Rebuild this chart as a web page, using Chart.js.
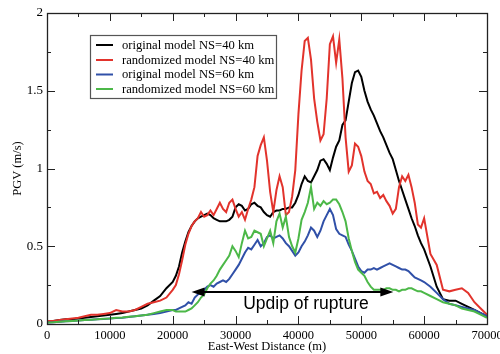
<!DOCTYPE html>
<html>
<head>
<meta charset="utf-8">
<script src="https://cdn.jsdelivr.net/npm/chart.js@4.4.0/dist/chart.umd.min.js"></script>
<style>
  html, body { margin: 0; padding: 0; background: #fff; }
  canvas { display: block; }
</style>
</head>
<body>
<canvas id="pgvChart" width="500" height="354"></canvas>
<script>
// sample positions along the fault (m)
const distance = [
  0, 1000, 2000, 3000, 4000, 5000, 6000, 7000, 8000, 9000,
  10000, 11000, 12000, 13000, 14000, 15000, 16000, 17000, 18000, 19000,
  20000, 20500, 21000, 21500, 22000, 22500, 23000, 23500, 24000, 24500,
  25000, 25500, 26000, 26500, 27000, 27500, 28000, 28500, 29000, 29500,
  30000, 30500, 31000, 31500, 32000, 32500, 33000, 33500, 34000, 34500,
  35000, 35500, 36000, 36500, 37000, 37500, 38000, 38500, 39000, 39500,
  40000, 40500, 41000, 41500, 42000, 42500, 43000, 43500, 44000, 44500,
  45000, 45500, 46000, 46500, 47000, 47500, 48000, 48500, 49000, 49500,
  50000, 50500, 51000, 51500, 52000, 52500, 53000, 53500, 54000, 54500,
  55000, 55500, 56000, 56500, 57000, 57500, 58000, 58500, 59000, 59500,
  60000, 61000, 62000, 63000, 64000, 65000, 66000, 67000, 68000, 69000, 70000
];

// PGV (m/s)
const original40 = [
  0.02, 0.02, 0.025, 0.03, 0.03, 0.035, 0.04, 0.045, 0.05, 0.055,
  0.06, 0.065, 0.07, 0.08, 0.09, 0.1, 0.12, 0.15, 0.18, 0.23,
  0.27, 0.31, 0.37, 0.46, 0.53, 0.59, 0.63, 0.66, 0.68, 0.69,
  0.70, 0.71, 0.70, 0.68, 0.67, 0.66, 0.66, 0.66, 0.67, 0.69,
  0.75, 0.77, 0.76, 0.73, 0.74, 0.77, 0.78, 0.76, 0.75, 0.72,
  0.70, 0.69, 0.72, 0.73, 0.73, 0.74, 0.74, 0.75, 0.75, 0.78,
  0.83, 0.90, 0.95, 0.92, 0.91, 0.95, 0.99, 1.05, 1.06, 1.03,
  0.99, 1.07, 1.14, 1.18, 1.28, 1.31, 1.43, 1.55, 1.62, 1.63,
  1.59, 1.50, 1.43, 1.38, 1.34, 1.29, 1.24, 1.20, 1.15, 1.10,
  1.06, 0.99, 0.92, 0.86, 0.80, 0.74, 0.68, 0.63, 0.57, 0.52,
  0.48, 0.37, 0.24, 0.16, 0.15, 0.15, 0.13, 0.11, 0.09, 0.07, 0.05
];
const random40 = [
  0.02, 0.02, 0.025, 0.03, 0.035, 0.04, 0.05, 0.06, 0.06, 0.065,
  0.07, 0.09, 0.08, 0.08, 0.09, 0.11, 0.13, 0.14, 0.15, 0.17,
  0.22, 0.25, 0.32, 0.41, 0.51, 0.58, 0.63, 0.66, 0.68, 0.72,
  0.69, 0.70, 0.73, 0.70, 0.74, 0.78, 0.74, 0.72, 0.78, 0.80,
  0.74, 0.69, 0.72, 0.67, 0.74, 0.80, 0.88, 1.08, 1.15, 1.20,
  1.05, 0.85, 0.72, 0.86, 0.95, 0.88, 0.70, 0.72, 0.82, 0.99,
  1.35, 1.63, 1.82, 1.84, 1.70, 1.45, 1.30, 1.18, 1.22, 1.45,
  1.80, 1.85, 1.68, 1.83, 1.58, 1.20, 0.98, 1.02, 1.16, 1.14,
  1.08, 0.98, 0.92, 0.90, 0.84, 0.85, 0.81, 0.83, 0.79, 0.76,
  0.71, 0.74, 0.88, 0.95, 0.92, 0.96, 0.88, 0.78, 0.64, 0.62,
  0.68, 0.45, 0.38, 0.22, 0.21, 0.22, 0.23, 0.20, 0.14, 0.10, 0.06
];
const original60 = [
  0.01, 0.012, 0.015, 0.018, 0.02, 0.022, 0.025, 0.028, 0.03, 0.032,
  0.035, 0.038, 0.04, 0.045, 0.05, 0.055, 0.06, 0.065, 0.07, 0.08,
  0.09, 0.09, 0.10, 0.11, 0.12, 0.14, 0.13, 0.17, 0.19, 0.20,
  0.22, 0.24, 0.25, 0.24, 0.26, 0.27, 0.28, 0.27, 0.29, 0.32,
  0.35, 0.38, 0.42, 0.46, 0.49, 0.48, 0.51, 0.54, 0.50, 0.52,
  0.56, 0.57, 0.55, 0.56, 0.57, 0.55, 0.52, 0.50, 0.47, 0.44,
  0.46, 0.50, 0.53, 0.57, 0.62, 0.60, 0.56, 0.60, 0.66, 0.70,
  0.74, 0.70, 0.61, 0.58, 0.57, 0.56, 0.51, 0.47, 0.42, 0.37,
  0.34, 0.33, 0.35, 0.35, 0.36, 0.35, 0.36, 0.37, 0.38, 0.39,
  0.38, 0.37, 0.36, 0.35, 0.35, 0.34, 0.32, 0.30, 0.29, 0.28,
  0.27, 0.24, 0.20, 0.16, 0.13, 0.12, 0.11, 0.10, 0.09, 0.07, 0.05
];
const random60 = [
  0.01, 0.012, 0.015, 0.018, 0.02, 0.022, 0.025, 0.028, 0.03, 0.033,
  0.036, 0.04, 0.042, 0.046, 0.05, 0.055, 0.06, 0.07, 0.08, 0.09,
  0.09, 0.08, 0.08, 0.08, 0.08, 0.09, 0.10, 0.12, 0.14, 0.17,
  0.19, 0.23, 0.26, 0.28, 0.31, 0.35, 0.38, 0.41, 0.44, 0.50,
  0.47, 0.43, 0.52, 0.60, 0.55, 0.56, 0.60, 0.59, 0.58, 0.50,
  0.55, 0.60, 0.52, 0.66, 0.71, 0.62, 0.69, 0.56, 0.50, 0.46,
  0.55, 0.67, 0.72, 0.78, 0.88, 0.74, 0.78, 0.76, 0.79, 0.77,
  0.78, 0.80, 0.80, 0.77, 0.72, 0.66, 0.55, 0.47, 0.40, 0.35,
  0.33, 0.31, 0.27, 0.24, 0.22, 0.22, 0.22, 0.22, 0.23, 0.23,
  0.22, 0.22, 0.21, 0.22, 0.22, 0.23, 0.23, 0.22, 0.21, 0.21,
  0.20, 0.18, 0.16, 0.14, 0.13, 0.12, 0.10, 0.09, 0.08, 0.06, 0.04
];

const seriesNames = [
  'original model NS=40 km',
  'randomized model NS=40 km',
  'original model NS=60 km',
  'randomized model NS=60 km'
];
const seriesColors = ['#000000', '#e2332c', '#3050a8', '#4cb848'];

// axes
const xTickValues = [0, 10000, 20000, 30000, 40000, 50000, 60000, 70000];
const xMinorStep = 5000;
const yTickValues = [0, 0.5, 1, 1.5, 2];
const yMinorStep = 0.25;

// annotation: updip arrow
const arrowFrom = 23000;
const arrowTo = 55100;
const arrowY = 0.205;
const arrowText = 'Updip of rupture';
const arrowTextX = 41200;
const arrowTextY = 0.098;

function toPoints(values) {
    return values.map((v, i) => ({ x: distance[i], y: v }));
}

const serif = "'Liberation Serif', 'Times New Roman', serif";

// frame, inward ticks, arrow and legend
const decorations = {
    id: 'decorations',
    afterDatasetsDraw(chart) {
        const ctx = chart.ctx;
        const a = chart.chartArea;
        const x = chart.scales.x;
        const y = chart.scales.y;
        ctx.save();

        // ticks on all four sides (long on labelled values)
        ctx.strokeStyle = '#222';
        ctx.lineWidth = 1;
        ctx.beginPath();
        for (let v = x.min + xMinorStep; v < x.max; v += xMinorStep) {
            const len = xTickValues.includes(v) ? 8 : 4;
            const px = Math.round(x.getPixelForValue(v)) + 0.5;
            ctx.moveTo(px, a.bottom); ctx.lineTo(px, a.bottom - len);
            ctx.moveTo(px, a.top); ctx.lineTo(px, a.top + len);
        }
        for (let v = y.min + yMinorStep; v < y.max; v += yMinorStep) {
            const len = yTickValues.includes(v) ? 8 : 4;
            const py = Math.round(y.getPixelForValue(v)) + 0.5;
            ctx.moveTo(a.left, py); ctx.lineTo(a.left + len, py);
            ctx.moveTo(a.right, py); ctx.lineTo(a.right - len, py);
        }
        ctx.stroke();

        // frame
        ctx.lineWidth = 1.3;
        ctx.strokeStyle = '#222';
        ctx.strokeRect(Math.round(a.left) + 0.5, Math.round(a.top) + 0.5,
            Math.round(a.right - a.left), Math.round(a.bottom - a.top));

        // arrow
        const x1 = x.getPixelForValue(arrowFrom);
        const x2 = x.getPixelForValue(arrowTo);
        const ay = y.getPixelForValue(arrowY);
        ctx.strokeStyle = '#000';
        ctx.fillStyle = '#000';
        ctx.lineWidth = 2;
        ctx.beginPath();
        ctx.moveTo(x1 + 8, ay); ctx.lineTo(x2 - 8, ay);
        ctx.stroke();
        ctx.beginPath();
        ctx.moveTo(x1, ay); ctx.lineTo(x1 + 13, ay - 4.5); ctx.lineTo(x1 + 13, ay + 4.5); ctx.closePath();
        ctx.moveTo(x2, ay); ctx.lineTo(x2 - 13, ay - 4.5); ctx.lineTo(x2 - 13, ay + 4.5); ctx.closePath();
        ctx.fill();

        ctx.font = "17.5px 'Liberation Sans', Arial, sans-serif";
        ctx.textAlign = 'center';
        ctx.textBaseline = 'alphabetic';
        ctx.fillText(arrowText, x.getPixelForValue(arrowTextX), y.getPixelForValue(arrowTextY));

        // legend box
        const bx = 90, by = 35, bw = 186, bh = 63;
        ctx.fillStyle = '#fff';
        ctx.fillRect(bx, by, bw, bh);
        ctx.strokeStyle = '#555';
        ctx.lineWidth = 1.2;
        ctx.strokeRect(bx + 0.5, by + 0.5, bw, bh);
        ctx.font = '12.6px ' + serif;
        ctx.textAlign = 'left';
        ctx.textBaseline = 'middle';
        const rows = [45, 60, 74.5, 89];
        seriesNames.forEach((name, i) => {
            ctx.strokeStyle = seriesColors[i];
            ctx.lineWidth = 2;
            ctx.beginPath();
            ctx.moveTo(96, rows[i]); ctx.lineTo(113, rows[i]);
            ctx.stroke();
            ctx.fillStyle = '#000';
            ctx.fillText(name, 122, rows[i] + 0.5);
        });
        ctx.restore();
    }
};

const datasets = [original40, random40, original60, random60].map((vals, i) => ({
    label: seriesNames[i],
    data: toPoints(vals),
    borderColor: seriesColors[i],
    borderWidth: 2,
    pointRadius: 0,
    tension: 0,
    fill: false,
    order: 4 - i
}));

new Chart(document.getElementById('pgvChart'), {
    type: 'line',
    data: { datasets: datasets },
    options: {
        responsive: false,
        animation: false,
        devicePixelRatio: 1,
        layout: { padding: { top: 13, right: 13, left: 0, bottom: 0 } },
        plugins: {
            legend: { display: false },
            tooltip: { enabled: false }
        },
        scales: {
            x: {
                type: 'linear',
                min: 0,
                max: 70000,
                grid: { display: false, drawTicks: false },
                border: { display: false },
                afterBuildTicks: s => { s.ticks = xTickValues.map(v => ({ value: v })); },
                afterFit: s => { s.height = 30; s.paddingLeft = 0; s.paddingRight = 0; },
                ticks: {
                    color: '#000',
                    padding: 4,
                    maxRotation: 0,
                    autoSkip: false,
                    font: { family: serif, size: 12.5 },
                    callback: v => String(v)
                },
                title: {
                    display: true,
                    text: 'East-West Distance (m)',
                    color: '#000',
                    font: { family: serif, size: 12.5 },
                    padding: { top: 0, bottom: 0 }
                }
            },
            y: {
                min: 0,
                max: 2,
                grid: { display: false, drawTicks: false },
                border: { display: false },
                afterBuildTicks: s => { s.ticks = yTickValues.map(v => ({ value: v })); },
                afterFit: s => { s.width = 47; s.paddingTop = 0; s.paddingBottom = 0; },
                ticks: {
                    color: '#000',
                    padding: 4,
                    autoSkip: false,
                    font: { family: serif, size: 13 },
                    callback: v => String(v)
                },
                title: {
                    display: true,
                    text: 'PGV (m/s)',
                    color: '#000',
                    font: { family: serif, size: 12.5 },
                    padding: { top: 10, bottom: 0 }
                }
            }
        }
    },
    plugins: [decorations]
});
</script>
</body>
</html>
